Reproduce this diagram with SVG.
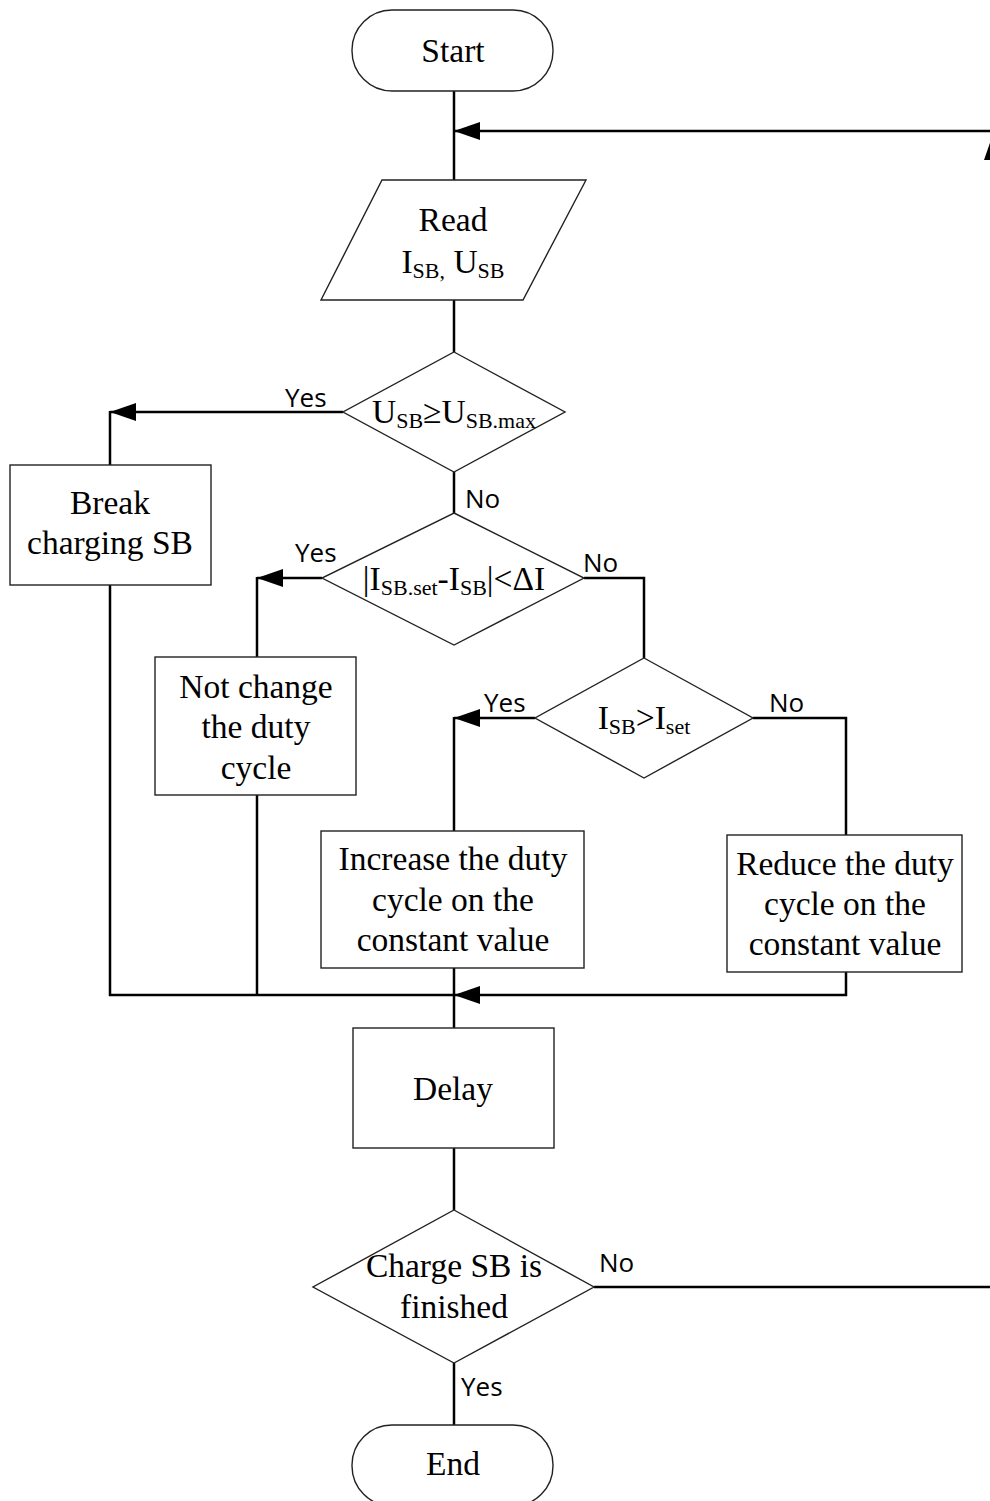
<svg xmlns="http://www.w3.org/2000/svg" width="990" height="1501" viewBox="0 0 990 1501">
<style>
.shape{fill:#fff;stroke:#222;stroke-width:1.4}
.conn{fill:none;stroke:#000;stroke-width:2.5}
.t{font-family:"Liberation Serif","Times New Roman",serif;font-size:33.5px;fill:#000;text-anchor:middle}
.s{font-size:22px}
.lbl{font-family:"Open Sans","Liberation Sans",Arial,sans-serif;font-size:26px;fill:#000}
</style>
<defs>
<marker id="ah" markerUnits="userSpaceOnUse" markerWidth="28" markerHeight="20" refX="26" refY="9" orient="auto">
<path d="M0,0 L26,9 L0,18 Z" fill="#000"/>
</marker>
</defs>
<rect width="990" height="1501" fill="#fff"/>
<g id="connectors">
<path class="conn" d="M454,91 L454,180"/>
<path class="conn" d="M990,131 L454,131" marker-end="url(#ah)"/>
<polygon points="984,160 991,140 991,160" fill="#000"/>
<path class="conn" d="M454,300 L454,352"/>
<path class="conn" d="M343,412 L110,412" marker-end="url(#ah)"/>
<path class="conn" d="M110,411 L110,465"/>
<path class="conn" d="M454,472 L454,513"/>
<path class="conn" d="M110,585 L110,995 L454,995"/>
<path class="conn" d="M322,578 L257,578" marker-end="url(#ah)"/>
<path class="conn" d="M257,577 L257,657"/>
<path class="conn" d="M257,795 L257,995"/>
<path class="conn" d="M584,578 L644,578 L644,658"/>
<path class="conn" d="M535,718 L454,718" marker-end="url(#ah)"/>
<path class="conn" d="M454,717 L454,831"/>
<path class="conn" d="M753,718 L846,718 L846,835"/>
<path class="conn" d="M846,972 L846,995 L454,995" marker-end="url(#ah)"/>
<path class="conn" d="M454,968 L454,1028"/>
<path class="conn" d="M454,1148 L454,1210"/>
<path class="conn" d="M594,1287 L990,1287"/>
<path class="conn" d="M454,1363 L454,1425"/>
</g>
<g id="labels">
<text class="lbl" x="285" y="407">Yes</text>
<text class="lbl" x="465" y="508">No</text>
<text class="lbl" x="295" y="562">Yes</text>
<text class="lbl" x="583" y="572">No</text>
<text class="lbl" x="484" y="712">Yes</text>
<text class="lbl" x="769" y="712">No</text>
<text class="lbl" x="599" y="1272">No</text>
<text class="lbl" x="461" y="1396">Yes</text>
</g>
<g id="start">
<rect class="shape" x="352" y="10" width="201" height="81" rx="40" ry="40"/>
<text class="t" x="453" y="62">Start</text>
</g>
<g id="read">
<polygon class="shape" points="382,180 586,180 523,300 321,300"/>
<text class="t" x="453" y="231">Read</text>
<text class="t" x="453" y="273">I<tspan class="s" dy="5">SB,</tspan><tspan dy="-5"> U</tspan><tspan class="s" dy="5">SB</tspan></text>
</g>
<g id="check-voltage">
<polygon class="shape" points="454,352 565,412 454,472 343,412"/>
<text class="t" x="454" y="423">U<tspan class="s" dy="5">SB</tspan><tspan dy="-5">≥U</tspan><tspan class="s" dy="5">SB.max</tspan></text>
</g>
<g id="break">
<rect class="shape" x="10" y="465" width="201" height="120"/>
<text class="t" x="110" y="514">Break</text>
<text class="t" x="110" y="554">charging SB</text>
</g>
<g id="check-delta">
<polygon class="shape" points="454,513 584,578 454,645 322,578"/>
<text class="t" x="454" y="590">|I<tspan class="s" dy="5">SB.set</tspan><tspan dy="-5">-I</tspan><tspan class="s" dy="5">SB</tspan><tspan dy="-5">|&lt;ΔI</tspan></text>
</g>
<g id="not-change">
<rect class="shape" x="155" y="657" width="201" height="138"/>
<text class="t" x="256" y="698">Not change</text>
<text class="t" x="256" y="738">the duty</text>
<text class="t" x="256" y="779">cycle</text>
</g>
<g id="check-current">
<polygon class="shape" points="644,658 753,718 644,778 535,718"/>
<text class="t" x="644" y="729">I<tspan class="s" dy="5">SB</tspan><tspan dy="-5">&gt;I</tspan><tspan class="s" dy="5">set</tspan></text>
</g>
<g id="increase">
<rect class="shape" x="321" y="831" width="263" height="137"/>
<text class="t" x="453" y="870">Increase the duty</text>
<text class="t" x="453" y="911">cycle on the</text>
<text class="t" x="453" y="951">constant value</text>
</g>
<g id="reduce">
<rect class="shape" x="727" y="835" width="235" height="137"/>
<text class="t" x="845" y="875">Reduce the duty</text>
<text class="t" x="845" y="915">cycle on the</text>
<text class="t" x="845" y="955">constant value</text>
</g>
<g id="delay">
<rect class="shape" x="353" y="1028" width="201" height="120"/>
<text class="t" x="453" y="1100">Delay</text>
</g>
<g id="check-finished">
<polygon class="shape" points="454,1210 594,1287 454,1363 313,1287"/>
<text class="t" x="454" y="1277">Charge SB is</text>
<text class="t" x="454" y="1318">finished</text>
</g>
<g id="end">
<rect class="shape" x="352" y="1425" width="201" height="81" rx="40" ry="40"/>
<text class="t" x="453" y="1475">End</text>
</g>
</svg>
